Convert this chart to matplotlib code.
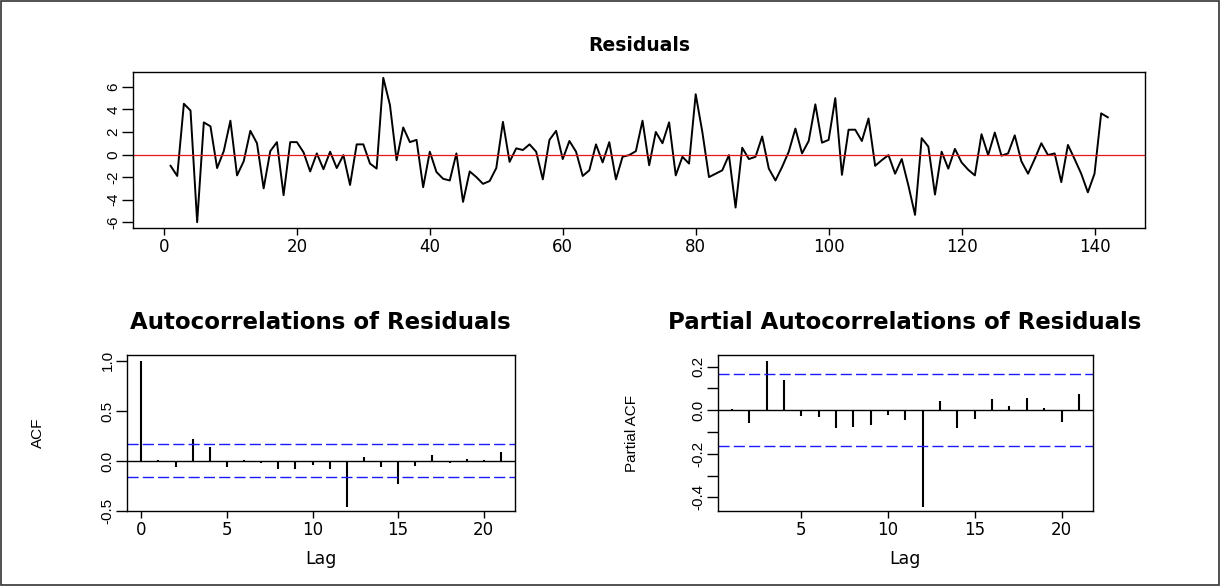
import matplotlib
matplotlib.use("Agg")
import matplotlib.pyplot as plt
from matplotlib.patches import Rectangle

# residuals of the fitted model (t = 1..142)
resid = [
    -1.0, -1.9, 4.5, 3.9, -6.0, 2.85, 2.5, -1.2, 0.3, 3.0,
    -1.85, -0.6, 2.1, 1.0, -3.0, 0.3, 1.1, -3.6, 1.1, 1.1,
    0.2, -1.5, 0.1, -1.3, 0.25, -1.2, -0.05, -2.7, 0.9, 0.9,
    -0.8, -1.25, 6.8, 4.4, -0.5, 2.4, 1.1, 1.3, -2.9, 0.25,
    -1.55, -2.15, -2.3, 0.1, -4.2, -1.5, -2.0, -2.6, -2.35, -1.2,
    2.9, -0.65, 0.55, 0.4, 0.9, 0.25, -2.2, 1.3, 2.1, -0.4,
    1.2, 0.25, -1.9, -1.4, 0.9, -0.7, 1.1, -2.2, -0.2, -0.05,
    0.3, 3.0, -0.95, 2.0, 1.0, 2.85, -1.85, -0.2, -0.8, 5.35,
    2.0, -2.0, -1.7, -1.4, -0.05, -4.7, 0.6, -0.4, -0.2, 1.6,
    -1.25, -2.3, -1.1, 0.25, 2.3, 0.1, 1.2, 4.45, 1.05, 1.3,
    5.0, -1.8, 2.2, 2.2, 1.2, 3.2, -1.0, -0.5, -0.05, -1.7,
    -0.4, -2.75, -5.35, 1.45, 0.7, -3.55, 0.25, -1.25, 0.5, -0.7,
    -1.35, -1.85, 1.8, -0.05, 1.95, -0.1, 0.1, 1.7, -0.6, -1.7,
    -0.4, 1.0, -0.05, 0.1, -2.45, 0.85, -0.4, -1.7, -3.35, -1.7,
    3.65, 3.3,
]
time_idx = list(range(1, len(resid) + 1))

# autocorrelations, lags 0..21
acf_lags = list(range(0, 22))
acf_vals = [1.0, 0.005, -0.064, 0.22, 0.14, -0.057, 0.01, -0.023, -0.077, -0.077,
            -0.04, -0.084, -0.46, 0.04, -0.057, -0.23, -0.05, 0.057, -0.023, 0.023,
            0.013, 0.094]

# partial autocorrelations, lags 1..21
pacf_lags = list(range(1, 22))
pacf_vals = [0.006, -0.058, 0.226, 0.137, -0.027, -0.03, -0.084, -0.079, -0.07, -0.023,
             -0.044, -0.443, 0.043, -0.084, -0.041, 0.05, 0.018, 0.058, 0.011, -0.053,
             0.073]

conf_limit = 0.165

res_xticks = [0, 20, 40, 60, 80, 100, 120, 140]
res_yticks = [-6, -4, -2, 0, 2, 4, 6]
acf_xticks = [0, 5, 10, 15, 20]
acf_yticks = [-0.5, 0.0, 0.5, 1.0]
pacf_xticks = [5, 10, 15, 20]
pacf_yticks = [-0.4, -0.3, -0.2, -0.1, 0.0, 0.1, 0.2]
pacf_ylabels = ["-0.4", "", "-0.2", "", "0.0", "", "0.2"]

HFONT = "DejaVu Sans"
VFONT = ["Liberation Sans Narrow", "Liberation Sans", "DejaVu Sans"]
C_BLUE = "#1a1aff"


def style_axes(ax, xticks, yticks, ylabels):
    for sp in ax.spines.values():
        sp.set_linewidth(1.0)
        sp.set_color("black")
    ax.set_xticks(xticks)
    ax.set_xticklabels([str(t) for t in xticks], fontfamily=HFONT, fontsize=12)
    ax.set_yticks(yticks)
    ax.set_yticklabels(ylabels, rotation=90, va="center", ha="right",
                       fontfamily=VFONT, fontsize=11)
    ax.tick_params(axis="x", direction="out", length=5, width=1.0, pad=2)
    ax.tick_params(axis="y", direction="out", length=8, width=1.0, pad=1)


fig = plt.figure(figsize=(12.21, 5.86), dpi=100)
fig.patch.set_facecolor("white")

# ── Residuals ─────────────────────────────────────────
ax_res = fig.add_axes([0.109, 0.611, 0.829, 0.266])
ax_res.plot(time_idx, resid, color="black", lw=1.4)
ax_res.axhline(0, color="#e8151b", lw=0.9)
ax_res.set_xlim(-4.64, 147.64)
ax_res.set_ylim(-6.51, 7.31)
style_axes(ax_res, res_xticks, res_yticks, [str(v) for v in res_yticks])
fig.text(0.5233, 0.923, "Residuals", ha="center", va="center",
         fontsize=13.5, fontweight="bold", fontfamily=HFONT)

# ── ACF ───────────────────────────────────────────────
ax_acf = fig.add_axes([0.104, 0.128, 0.318, 0.266])
ax_acf.vlines(acf_lags, 0, acf_vals, color="black", lw=1.5)
ax_acf.axhline(0, color="black", lw=1.0)
for c in (conf_limit, -conf_limit):
    ax_acf.axhline(c, color=C_BLUE, lw=1.0, ls=(0, (8, 3)))
ax_acf.set_xlim(-0.84, 21.84)
ax_acf.set_ylim(-0.5, 1.058)
style_axes(ax_acf, acf_xticks, acf_yticks, ["-0.5", "0.0", "0.5", "1.0"])
ax_acf.set_xlabel("Lag", fontfamily=HFONT, fontsize=12.5, labelpad=8)
ax_acf.set_ylabel("ACF", fontfamily=VFONT, fontsize=11, labelpad=40)
fig.text(0.2627, 0.449, "Autocorrelations of Residuals", ha="center", va="center",
         fontsize=16.5, fontweight="bold", fontfamily=HFONT)

# ── PACF ──────────────────────────────────────────────
ax_pacf = fig.add_axes([0.588, 0.128, 0.307, 0.266])
ax_pacf.vlines(pacf_lags, 0, pacf_vals, color="black", lw=1.5)
ax_pacf.axhline(0, color="black", lw=1.0)
for c in (conf_limit, -conf_limit):
    ax_pacf.axhline(c, color=C_BLUE, lw=1.0, ls=(0, (8, 3)))
ax_pacf.set_xlim(0.2, 21.8)
ax_pacf.set_ylim(-0.463, 0.253)
style_axes(ax_pacf, pacf_xticks, pacf_yticks, pacf_ylabels)
ax_pacf.set_xlabel("Lag", fontfamily=HFONT, fontsize=12.5, labelpad=8)
ax_pacf.set_ylabel("Partial ACF", fontfamily=VFONT, fontsize=11, labelpad=38)
fig.text(0.7412, 0.449, "Partial Autocorrelations of Residuals", ha="center", va="center",
         fontsize=16.5, fontweight="bold", fontfamily=HFONT)

# outer frame
fig.patches.append(Rectangle((0.001, 0.002), 0.997, 0.996, transform=fig.transFigure,
                             fill=False, edgecolor="#333333", lw=1.2))

fig.savefig("out.png", dpi=100, facecolor="white")
